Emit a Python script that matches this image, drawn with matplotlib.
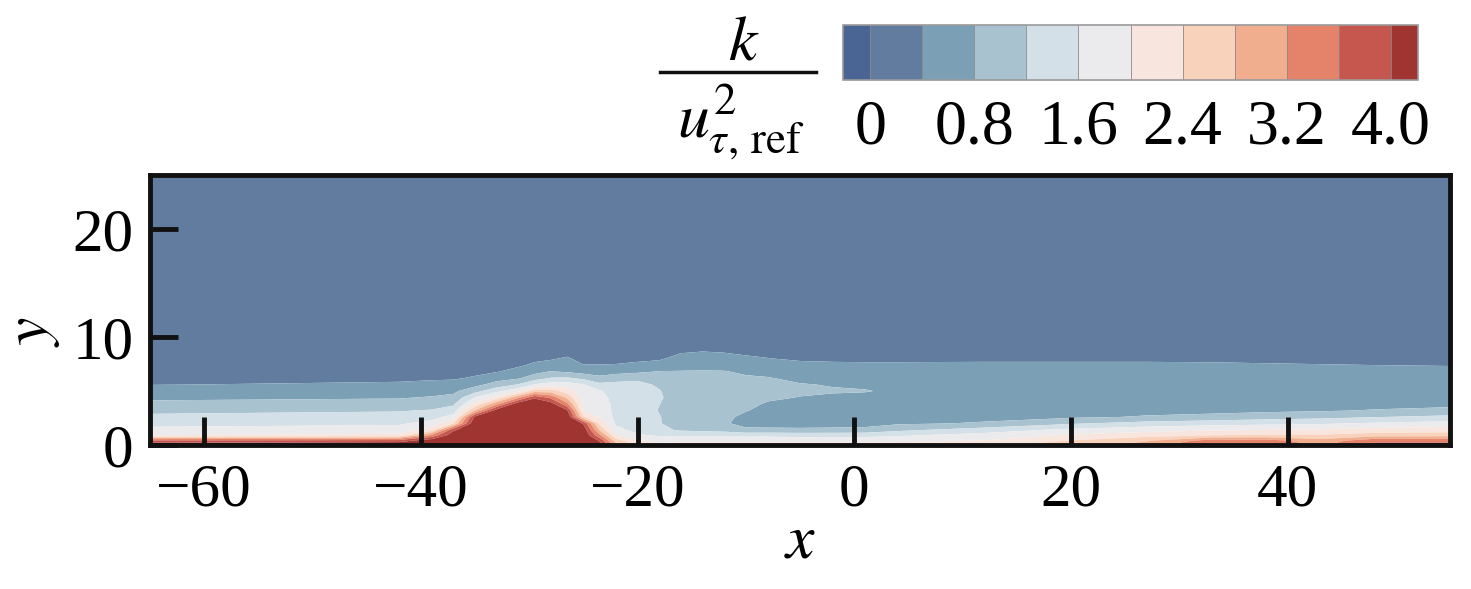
import numpy as np
import matplotlib.pyplot as plt
from matplotlib.colors import ListedColormap
from matplotlib.lines import Line2D

plt.rcParams['font.family'] = ['Liberation Serif', 'DejaVu Serif']
plt.rcParams['mathtext.fontset'] = 'stix'

# ---------- data ----------
# stations along the wall (x) and normal to it (y)
x_st = [-65, -42, -39, -37, -35, -33, -31, -29.5, -28, -26.5, -25, -23.5, -22, -20,
        -18, -16, -14, -12, -10, -8, -5, -2, 1, 4, 12, 20, 27, 33, 38, 43, 48, 55]
y_st = [0, 0.4, 0.9, 1.4, 2.0, 2.6, 3.2, 3.8, 4.4, 5.0, 5.6, 6.2, 6.8, 7.4, 8.0, 8.6, 9.4, 11, 25]

# k / u_tau,ref^2, one profile (bottom -> top) per x station
k_profiles = [
    [4.3, 3.7, 2.0, 1.71, 1.48, 1.29, 1.1, 0.9, 0.72, 0.56, 0.39, 0.3, 0.26, 0.24, 0.22, 0.21, 0.2, 0.2, 0.15],
    [4.4, 3.8, 2.1, 1.75, 1.55, 1.35, 1.17, 0.95, 0.77, 0.61, 0.45, 0.33, 0.27, 0.24, 0.22, 0.21, 0.2, 0.2, 0.15],
    [4.6, 4.3, 3.3, 2.2, 1.75, 1.45, 1.23, 1.0, 0.83, 0.66, 0.5, 0.35, 0.28, 0.24, 0.22, 0.21, 0.2, 0.2, 0.15],
    [4.6, 4.5, 4.3, 3.9, 2.4, 1.75, 1.4, 1.13, 0.9, 0.72, 0.52, 0.36, 0.29, 0.25, 0.22, 0.21, 0.2, 0.2, 0.15],
    [4.6, 4.6, 4.6, 4.5, 4.4, 4.1, 2.8, 2.1, 1.62, 1.05, 0.68, 0.44, 0.32, 0.26, 0.23, 0.21, 0.2, 0.2, 0.15],
    [4.6, 4.6, 4.6, 4.6, 4.6, 4.5, 4.2, 3.1, 2.1, 1.5, 0.96, 0.64, 0.38, 0.3, 0.25, 0.22, 0.2, 0.2, 0.15],
    [4.5, 4.6, 4.6, 4.6, 4.6, 4.6, 4.5, 4.3, 3.1, 1.9, 1.22, 0.75, 0.52, 0.35, 0.27, 0.23, 0.21, 0.2, 0.15],
    [4.6, 4.6, 4.6, 4.6, 4.6, 4.6, 4.6, 4.5, 3.9, 2.6, 1.62, 1.0, 0.68, 0.46, 0.33, 0.26, 0.22, 0.2, 0.15],
    [4.6, 4.6, 4.6, 4.6, 4.6, 4.6, 4.5, 4.2, 3.5, 2.6, 1.8, 1.22, 0.82, 0.52, 0.37, 0.29, 0.23, 0.2, 0.15],
    [4.6, 4.6, 4.6, 4.6, 4.5, 4.4, 4.05, 3.3, 2.7, 2.2, 1.8, 1.25, 0.75, 0.6, 0.44, 0.3, 0.23, 0.2, 0.15],
    [4.5, 4.5, 4.4, 4.3, 3.95, 2.45, 1.95, 1.85, 1.8, 1.75, 1.62, 1.1, 0.65, 0.41, 0.3, 0.25, 0.22, 0.2, 0.15],
    [4.2, 3.95, 3.3, 2.75, 2.3, 1.95, 1.85, 1.8, 1.75, 1.65, 1.3, 0.9, 0.62, 0.41, 0.3, 0.25, 0.22, 0.2, 0.15],
    [3.0, 2.6, 2.05, 1.7, 1.55, 1.5, 1.5, 1.5, 1.45, 1.4, 1.3, 1.05, 0.65, 0.42, 0.3, 0.25, 0.22, 0.2, 0.15],
    [2.3, 2.05, 1.65, 1.5, 1.45, 1.42, 1.42, 1.42, 1.42, 1.4, 1.3, 1.12, 0.72, 0.47, 0.33, 0.26, 0.22, 0.2, 0.15],
    [2.1, 1.9, 1.55, 1.3, 1.22, 1.22, 1.18, 1.21, 1.25, 1.22, 1.15, 1.05, 0.82, 0.52, 0.36, 0.27, 0.23, 0.2, 0.15],
    [2.2, 1.9, 1.5, 1.15, 1.05, 1.0, 1.0, 1.0, 1.0, 1.0, 0.98, 0.92, 0.82, 0.65, 0.5, 0.38, 0.27, 0.21, 0.15],
    [2.2, 1.9, 1.5, 1.1, 1.0, 0.97, 0.97, 0.98, 0.98, 0.98, 0.96, 0.9, 0.83, 0.66, 0.52, 0.41, 0.28, 0.21, 0.15],
    [2.2, 1.9, 1.5, 1.05, 0.84, 0.88, 0.93, 0.95, 0.95, 0.95, 0.93, 0.88, 0.82, 0.66, 0.5, 0.39, 0.28, 0.21, 0.15],
    [2.2, 1.9, 1.5, 0.86, 0.7, 0.72, 0.82, 0.88, 0.92, 0.92, 0.9, 0.85, 0.74, 0.6, 0.45, 0.35, 0.26, 0.21, 0.15],
    [2.2, 1.9, 1.5, 0.88, 0.65, 0.65, 0.7, 0.77, 0.85, 0.88, 0.87, 0.82, 0.7, 0.55, 0.41, 0.32, 0.25, 0.21, 0.15],
    [2.2, 1.9, 1.45, 0.88, 0.62, 0.6, 0.63, 0.7, 0.79, 0.85, 0.82, 0.72, 0.6, 0.47, 0.36, 0.3, 0.24, 0.2, 0.15],
    [2.2, 1.9, 1.45, 0.9, 0.62, 0.58, 0.6, 0.66, 0.75, 0.83, 0.78, 0.68, 0.57, 0.45, 0.35, 0.29, 0.24, 0.2, 0.15],
    [2.2, 1.9, 1.45, 0.92, 0.64, 0.58, 0.6, 0.64, 0.72, 0.82, 0.74, 0.65, 0.56, 0.44, 0.35, 0.29, 0.24, 0.2, 0.15],
    [2.2, 1.9, 1.55, 1.1, 0.75, 0.66, 0.64, 0.64, 0.68, 0.74, 0.7, 0.63, 0.55, 0.44, 0.35, 0.29, 0.24, 0.2, 0.15],
    [2.3, 2.02, 1.75, 1.4, 0.83, 0.72, 0.68, 0.65, 0.63, 0.62, 0.6, 0.57, 0.52, 0.44, 0.36, 0.3, 0.25, 0.21, 0.15],
    [2.6, 2.42, 2.05, 1.7, 1.15, 0.74, 0.68, 0.65, 0.64, 0.63, 0.61, 0.58, 0.53, 0.44, 0.36, 0.3, 0.25, 0.21, 0.15],
    [3.0, 2.75, 2.25, 1.85, 1.35, 0.83, 0.7, 0.67, 0.65, 0.64, 0.62, 0.58, 0.53, 0.44, 0.36, 0.3, 0.25, 0.21, 0.15],
    [3.7, 3.4, 2.4, 1.95, 1.45, 0.9, 0.7, 0.67, 0.66, 0.65, 0.63, 0.59, 0.53, 0.43, 0.36, 0.3, 0.25, 0.21, 0.15],
    [3.7, 3.4, 2.45, 2.0, 1.5, 1.02, 0.72, 0.68, 0.67, 0.66, 0.63, 0.59, 0.52, 0.42, 0.35, 0.3, 0.25, 0.21, 0.15],
    [3.1, 2.95, 2.45, 2.05, 1.55, 1.08, 0.76, 0.69, 0.68, 0.66, 0.63, 0.59, 0.52, 0.41, 0.34, 0.29, 0.25, 0.21, 0.15],
    [3.75, 3.5, 2.6, 2.15, 1.65, 1.18, 0.82, 0.7, 0.69, 0.66, 0.63, 0.6, 0.52, 0.4, 0.33, 0.29, 0.25, 0.21, 0.15],
    [3.75, 3.5, 2.65, 2.2, 1.75, 1.3, 0.88, 0.72, 0.7, 0.67, 0.64, 0.6, 0.52, 0.38, 0.32, 0.28, 0.24, 0.21, 0.15],
]

levels = [0, 0.4, 0.8, 1.2, 1.6, 2.0, 2.4, 2.8, 3.2, 3.6, 4.0]
cb_ticks = [0, 0.8, 1.6, 2.4, 3.2, 4.0]
cb_labels = ['0', '0.8', '1.6', '2.4', '3.2', '4.0']
x_ticks = [-60, -40, -20, 0, 20, 40]
y_ticks = [0, 10, 20]

# colour of each band, under-range first and over-range last
band_colors = ['#4a6593', '#627ca0', '#7b9fb5', '#a9c2cf', '#d3e0e7', '#ebeaec',
               '#f8e6de', '#f9d2bc', '#f1ae8f', '#e4836a', '#c6574f', '#9f3431']

K = np.array(k_profiles).T

cmap = ListedColormap(band_colors[1:-1])
cmap.set_under(band_colors[0])
cmap.set_over(band_colors[-1])

W, H = 1471, 589
ink = '#111111'
fig = plt.figure(figsize=(W / 100, H / 100), dpi=100)

# ---------- contour field ----------
ax = fig.add_axes([150 / W, 1 - 445 / H, 1300 / W, 270 / H])
cf = ax.contourf(x_st, y_st, K, levels=levels, cmap=cmap, extend='both', antialiased=True)
ax.set_xlim(-65, 55)
ax.set_ylim(0, 25)
ax.set_xticks(x_ticks)
ax.set_yticks(y_ticks)
for s in ax.spines.values():
    s.set_linewidth(3.5)
    s.set_color(ink)
ax.tick_params(direction='in', length=20, width=3.5, color=ink, labelsize=44,
               top=False, right=False)
ax.tick_params(axis='x', pad=13)
ax.tick_params(axis='y', pad=12)
ax.set_xlabel('$x$', fontsize=46, labelpad=-4)
ax.set_ylabel('$y$', fontsize=46)
ax.yaxis.set_label_coords(-0.068, 0.42)

# ---------- colour bar ----------
cax = fig.add_axes([843 / W, 1 - 80 / H, 575 / W, 55 / H])
cb = fig.colorbar(cf, cax=cax, orientation='horizontal', extendrect=True,
                  extendfrac=0.052, ticks=cb_ticks, drawedges=True)
cb.ax.set_xticklabels(cb_labels)
cb.ax.tick_params(length=0, labelsize=46, pad=14)
cb.outline.set_edgecolor('#9a9a9a')
cb.outline.set_linewidth(1.2)
cb.dividers.set_color('#8a8a8a')
cb.dividers.set_linewidth(0.6)

# fraction label k / u_tau,ref^2
fig.text(744 / W, 1 - 44 / H, '$k$', fontsize=46, ha='center', va='center')
fig.add_artist(Line2D([660 / W, 816 / W], [1 - 72 / H, 1 - 72 / H], color=ink, lw=2.5))
fig.text(741 / W, 1 - 122 / H, r'$u^2_{\tau,\,\mathrm{ref}}$', fontsize=46,
         ha='center', va='center')

fig.savefig('out.png', dpi=100)
